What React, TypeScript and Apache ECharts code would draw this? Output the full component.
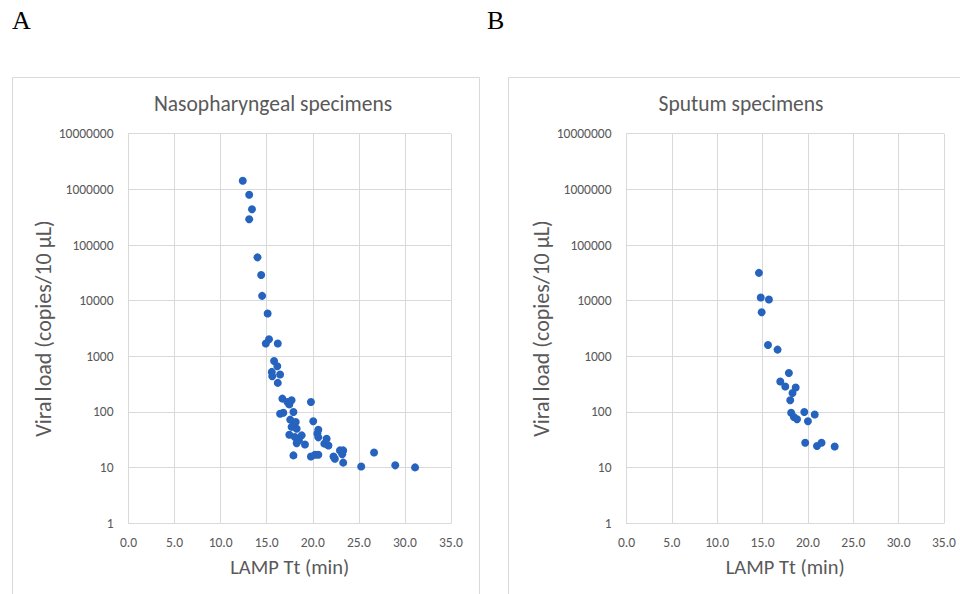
import React, { useEffect, useRef } from "react";
import * as echarts from "echarts";

// Panel A: Nasopharyngeal specimens  [LAMP Tt (min), viral load (copies/10 µL)]
const nasoTt = [
  12.4, 13.1, 13.4, 13.1, 14.0, 14.4, 14.5, 15.1, 15.25, 14.9, 16.2, 15.8, 16.15, 15.55,
  16.45, 15.6, 16.2, 16.7, 17.25, 17.7, 17.45, 19.8, 16.45, 16.8, 17.9, 17.55, 18.15, 20.05,
  17.7, 18.25, 20.6, 20.5, 17.45, 18.05, 18.8, 18.5, 19.15, 18.25, 20.6, 21.5, 21.25, 21.7,
  17.9, 19.8, 20.25, 20.6, 22.25, 22.4, 22.95, 23.3, 23.2, 23.3, 25.25, 26.65, 28.95, 31.1,
];
const nasoLoad = [
  1430000, 800000, 440000, 290000, 60000, 29000, 12200, 5900, 2030, 1700, 1700, 826, 664, 525,
  471, 439, 333, 174, 151, 162, 137, 151, 93, 97, 100, 73, 66, 68,
  54, 50, 48, 41, 39, 35.5, 38, 31, 26, 27.5, 35, 33, 27, 25,
  16.6, 15.9, 17, 17, 15.9, 14.4, 20.4, 20.4, 17.4, 12.3, 10.5, 18.7, 11, 10.1,
];

// Panel B: Sputum specimens
const sputumTt = [
  14.6, 14.8, 15.7, 14.9, 15.6, 16.65, 17.9, 16.95, 17.5, 18.65, 18.3, 18.05, 18.15, 18.45,
  18.8, 19.6, 20.0, 20.75, 19.7, 21.0, 21.5, 22.95,
];
const sputumLoad = [
  31600, 11400, 10500, 6200, 1600, 1320, 500, 352, 287, 275, 220, 162, 97, 81,
  74, 100, 68, 90, 28, 24.5, 28, 24,
];

const xTickLabels = ["0.0", "5.0", "10.0", "15.0", "20.0", "25.0", "30.0", "35.0"];
const yTickLabels = ["1", "10", "100", "1000", "10000", "100000", "1000000", "10000000"];

const panelTitles = ["Nasopharyngeal specimens", "Sputum specimens"];
const panelLetters = ["A", "B"];
const xAxisName = "LAMP Tt (min)";
const yAxisName = "Viral load (copies/10 µL)";

const TEXT = "#595959";
const GRID = "#D9D9D9";
const DOT = "#2563BE";
const FONT = "Calibri, Carlito, 'Liberation Sans Narrow', 'Open Sans', 'Liberation Sans', sans-serif";

function zip(xs: number[], ys: number[]) {
  return xs.map((x, i) => [x, ys[i]]);
}

export default function App() {
  const ref = useRef<HTMLDivElement>(null);

  useEffect(() => {
    if (!ref.current) return;
    const chart = echarts.init(ref.current, undefined, { renderer: "svg" });

    const grids = [
      { left: 128.5, top: 133.7, width: 322.5, height: 389.6 },
      { left: 626.5, top: 133.7, width: 317.5, height: 389.6 },
    ];

    const xAxes = grids.map((_, i) => ({
      type: "value",
      gridIndex: i,
      min: 0,
      max: 35,
      interval: 5,
      name: xAxisName,
      nameLocation: "middle",
      nameGap: 33,
      nameTextStyle: { color: TEXT, fontSize: 20.5, fontFamily: FONT },
      axisLine: { show: true, lineStyle: { color: GRID, width: 1 } },
      axisTick: { show: false },
      axisLabel: {
        color: TEXT,
        fontSize: 13.5,
        fontFamily: FONT,
        margin: 12,
        formatter: (v: number) => xTickLabels[Math.round(v / 5)] ?? v.toFixed(1),
      },
      splitLine: { show: true, lineStyle: { color: GRID, width: 1 } },
    }));

    const yAxes = grids.map((_, i) => ({
      type: "log",
      logBase: 10,
      gridIndex: i,
      min: 1,
      max: 10000000,
      name: yAxisName,
      nameLocation: "middle",
      nameGap: 74,
      nameTextStyle: { color: TEXT, fontSize: 22, fontFamily: FONT },
      axisLine: { show: true, lineStyle: { color: GRID, width: 1 } },
      axisTick: { show: false },
      axisLabel: {
        color: TEXT,
        fontSize: 13.5,
        fontFamily: FONT,
        margin: 15,
        formatter: (v: number) => yTickLabels[Math.round(Math.log10(v))] ?? String(v),
      },
      splitLine: { show: true, lineStyle: { color: GRID, width: 1 } },
    }));

    const boxes = [
      { x: 12, w: 467, titleX: 273 },
      { x: 508, w: 467, titleX: 741 },
    ];

    const graphic: any[] = [];
    boxes.forEach((b, i) => {
      graphic.push({
        type: "rect",
        shape: { x: b.x + 0.5, y: 77.5, width: b.w, height: 540 },
        style: { fill: "#ffffff", stroke: GRID, lineWidth: 1 },
        z: -10,
        silent: true,
      });
      graphic.push({
        type: "text",
        x: b.titleX,
        y: 104,
        style: {
          text: panelTitles[i],
          fill: TEXT,
          fontSize: 21.5,
          fontFamily: FONT,
          textAlign: "center",
          textVerticalAlign: "middle",
        },
      });
    });
    [12, 487].forEach((x, i) => {
      graphic.push({
        type: "text",
        x,
        y: 20,
        style: {
          text: panelLetters[i],
          fill: "#000",
          fontSize: 26,
          fontFamily: "'Liberation Serif', 'DejaVu Serif', serif",
          textAlign: "left",
          textVerticalAlign: "middle",
        },
      });
    });

    chart.setOption({
      animation: false,
      backgroundColor: "#ffffff",
      grid: grids,
      xAxis: xAxes,
      yAxis: yAxes,
      graphic,
      series: [
        {
          type: "scatter",
          xAxisIndex: 0,
          yAxisIndex: 0,
          data: zip(nasoTt, nasoLoad),
          symbol: "circle",
          symbolSize: 8,
          itemStyle: { color: DOT, opacity: 1 },
        },
        {
          type: "scatter",
          xAxisIndex: 1,
          yAxisIndex: 1,
          data: zip(sputumTt, sputumLoad),
          symbol: "circle",
          symbolSize: 8,
          itemStyle: { color: DOT, opacity: 1 },
        },
      ],
    });

    return () => chart.dispose();
  }, []);

  return (
    <div
      ref={ref}
      style={{ position: "fixed", left: 0, top: 0, width: 960, height: 594, background: "#fff" }}
    />
  );
}
